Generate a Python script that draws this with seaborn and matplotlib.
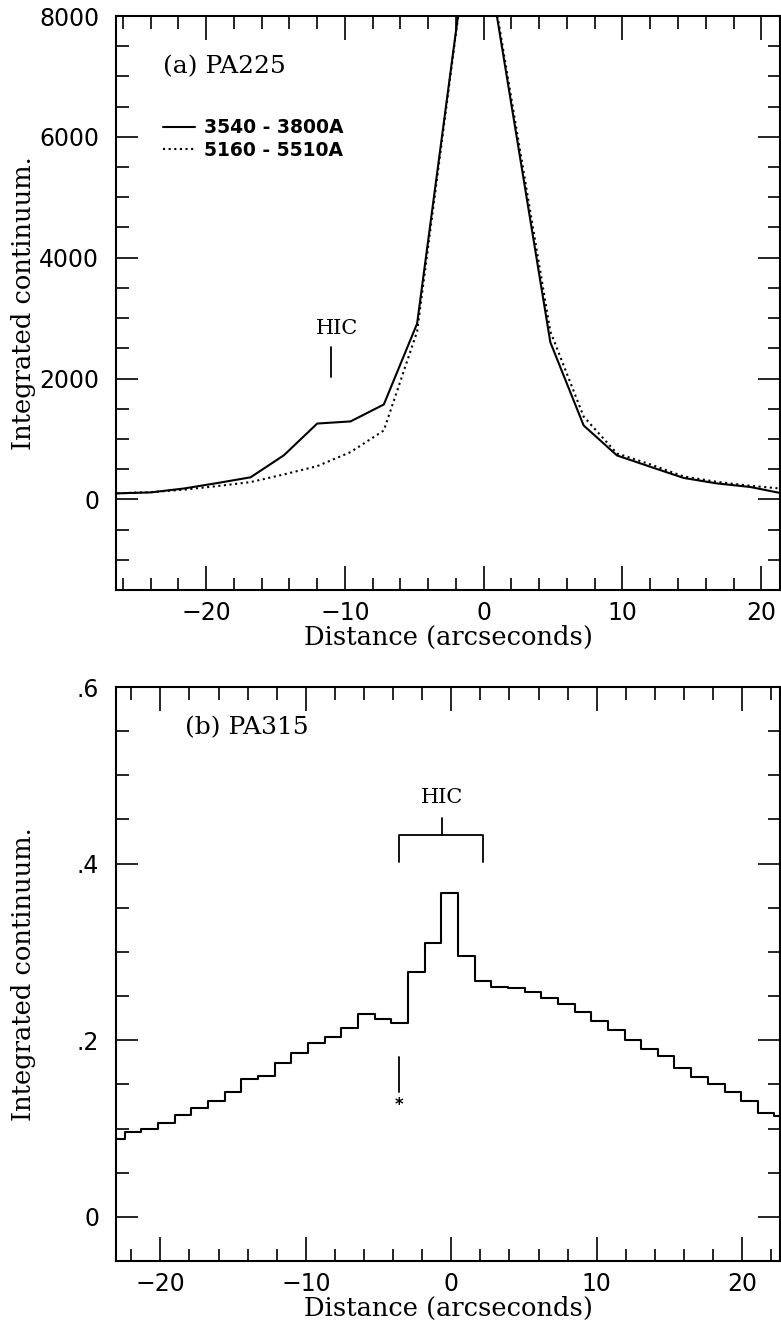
import numpy as np
import pandas as pd
import matplotlib
matplotlib.use("Agg")
import matplotlib.pyplot as plt
from matplotlib.ticker import MultipleLocator, FuncFormatter
import seaborn as sns

# ---- panel (a): PA225, continuum in two bands ----
pa225_offset = [-26.4, -24.0, -21.6, -19.2, -16.8, -14.4, -12.0, -9.6, -7.2, -4.8,
                -0.6, 4.8, 7.2, 9.6, 12.0, 14.4, 16.8, 19.2, 21.6]
band_uv = [100, 115, 180, 270, 365, 730, 1255, 1290, 1570, 2910,
           10170, 2600, 1223, 727, 540, 355, 264, 205, 95]
band_vis = [100, 120, 160, 220, 286, 413, 550, 782, 1140, 2780,
            10190, 2780, 1370, 760, 580, 380, 290, 225, 175]
band_labels = ["3540 - 3800A", "5160 - 5510A"]

# ---- panel (b): PA315, binned continuum ----
pa315_offset = [-23.03, -21.89, -20.74, -19.60, -18.45, -17.31, -16.16, -15.01,
                -13.87, -12.72, -11.58, -10.43, -9.29, -8.14, -6.99, -5.85,
                -4.70, -3.56, -2.41, -1.27, -0.12, 1.03, 2.17, 3.32, 4.46,
                5.61, 6.75, 7.90, 9.05, 10.19, 11.34, 12.48, 13.63, 14.77,
                15.92, 17.07, 18.21, 19.36, 20.50, 21.65, 22.79]
pa315_flux = [0.0883, 0.0958, 0.0996, 0.1064, 0.1148, 0.1231, 0.1311, 0.1413,
              0.1557, 0.1591, 0.1742, 0.1860, 0.1970, 0.2038, 0.2133, 0.2295,
              0.2246, 0.2190, 0.2770, 0.3106, 0.3667, 0.2958, 0.2674, 0.2606,
              0.2587, 0.2542, 0.2474, 0.2409, 0.2322, 0.2220, 0.2114, 0.2000,
              0.1905, 0.1818, 0.1686, 0.1583, 0.1508, 0.1413, 0.1307, 0.1174,
              0.1140]

# annotation geometry (data units)
hic_a_x, hic_a_tick = -11.0, (2020, 2515)
hic_a_text = (-10.6, 2830)
hic_b_span, hic_b_y, hic_b_foot, hic_b_top = (-3.57, 2.19), 0.432, 0.402, 0.452
hic_b_center = -0.67
hic_b_text = (-0.67, 0.475)
star_x, star_tick, star_y = -3.57, (0.141, 0.181), 0.127

sns.set_theme(style="ticks")
plt.rcParams.update({
    "font.family": ["DejaVu Serif", "DejaVu Sans"],
    "text.color": "black",
    "axes.labelcolor": "black",
    "axes.linewidth": 1.4,
    "axes.edgecolor": "black",
    "xtick.direction": "in", "ytick.direction": "in",
    "xtick.top": True, "ytick.right": True,
    "xtick.major.size": 17, "ytick.major.size": 16,
    "xtick.minor.size": 9, "ytick.minor.size": 9,
    "xtick.major.width": 1.2, "ytick.major.width": 1.2,
    "xtick.minor.width": 1.2, "ytick.minor.width": 1.2,
    "xtick.color": "black", "ytick.color": "black",
    "xtick.labelcolor": "black", "ytick.labelcolor": "black",
})

W, H = 781, 1323
fig = plt.figure(figsize=(W / 100, H / 100), dpi=100)
fig.patch.set_facecolor("white")
ax1 = fig.add_axes([116 / W, 1 - 590 / H, 664 / W, 574 / H])
ax2 = fig.add_axes([116 / W, 1 - 1261 / H, 664 / W, 574 / H])

label_font = dict(family="DejaVu Serif", size=18.5, color="black")
note_font = dict(family="DejaVu Serif", size=15, color="black")

def style_axis(ax, xmajor, xminor, ymajor, yminor):
    ax.set_facecolor("white")
    ax.xaxis.set_major_locator(MultipleLocator(xmajor))
    ax.xaxis.set_minor_locator(MultipleLocator(xminor))
    ax.yaxis.set_major_locator(MultipleLocator(ymajor))
    ax.yaxis.set_minor_locator(MultipleLocator(yminor))
    ax.tick_params(which="both", top=True, right=True, labelfontfamily="DejaVu Sans",
                   labelsize=17, colors="black")
    ax.tick_params(axis="y", which="major", pad=12)
    ax.tick_params(axis="x", which="major", pad=8)
    for s in ax.spines.values():
        s.set_visible(True)
        s.set_linewidth(1.5)
        s.set_color("black")
    ax.set_xlabel("Distance (arcseconds)", fontdict=label_font)
    ax.set_ylabel("Integrated continuum.", fontdict=label_font)
    ax.xaxis.set_label_coords(0.5, -0.061)
    ax.yaxis.set_label_coords(-0.121, 0.5)

# ---- panel (a) ----
df_a = pd.DataFrame({
    "offset": pa225_offset * 2,
    "flux": band_uv + band_vis,
    "band": [band_labels[0]] * len(band_uv) + [band_labels[1]] * len(band_vis),
})
sns.lineplot(data=df_a, x="offset", y="flux", style="band",
             dashes={band_labels[0]: "", band_labels[1]: (1, 1.7)},
             color="black", linewidth=1.5, ax=ax1, sort=True)
ax1.set_xlim(-26.5, 21.35)
ax1.set_ylim(-1500, 8000)
style_axis(ax1, 10, 2, 2000, 500)
ax1.yaxis.set_major_formatter(FuncFormatter(lambda v, p: f"{v:.0f}"))
handles, labels = ax1.get_legend_handles_labels()
leg = ax1.legend(handles, labels, loc="upper left", bbox_to_anchor=(0.071, 0.822),
                 frameon=False, borderpad=0, borderaxespad=0, handlelength=1.7,
                 handletextpad=0.5, labelspacing=0.2,
                 prop=dict(family="DejaVu Sans", weight="bold", size=13.5))
for t in leg.get_texts():
    t.set_color("black")
ax1.text(0.0708, 0.911, "(a) PA225", transform=ax1.transAxes, ha="left",
         va="center", family="DejaVu Serif", size=18, color="black")
ax1.plot([hic_a_x, hic_a_x], hic_a_tick, color="black", lw=1.3)
ax1.text(*hic_a_text, "HIC", ha="center", va="center", **note_font)

# ---- panel (b) ----
sns.lineplot(x=pa315_offset, y=pa315_flux, drawstyle="steps-mid",
             color="black", linewidth=1.5, ax=ax2)
ax2.set_xlim(-23.05, 22.6)
ax2.set_ylim(-0.05, 0.6)
style_axis(ax2, 10, 2, 0.2, 0.05)
ax2.yaxis.set_major_formatter(
    FuncFormatter(lambda v, p: "0" if abs(v) < 1e-9 else f"{v:.1f}".replace("0.", ".")))
ax2.text(0.104, 0.9286, "(b) PA315", transform=ax2.transAxes, ha="left",
         va="center", family="DejaVu Serif", size=18, color="black")
x0, x1 = hic_b_span
ax2.plot([x0, x0, x1, x1], [hic_b_foot, hic_b_y, hic_b_y, hic_b_foot],
         color="black", lw=1.3)
ax2.plot([hic_b_center, hic_b_center], [hic_b_y, hic_b_top], color="black", lw=1.3)
ax2.text(*hic_b_text, "HIC", ha="center", va="center", **note_font)
ax2.plot([star_x, star_x], star_tick, color="black", lw=1.3)
ax2.text(star_x, star_y, "*", ha="center", va="center", family="DejaVu Sans",
         size=12, fontweight="bold", color="black")

fig.savefig("out.png", dpi=100, facecolor="white")
